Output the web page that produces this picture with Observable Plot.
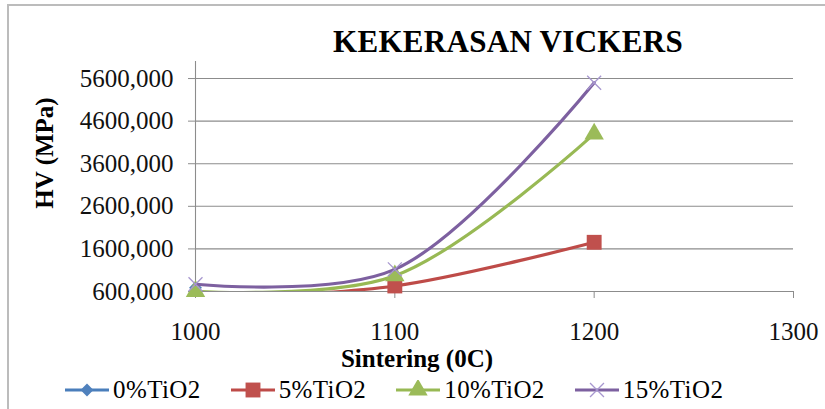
<!DOCTYPE html>
<html>
<head>
<meta charset="utf-8">
<script src="https://cdn.jsdelivr.net/npm/d3@7"></script>
<script src="https://cdn.jsdelivr.net/npm/@observablehq/plot@0.6"></script>
<style>
  html, body { margin: 0; padding: 0; background: #fff; font-family: 'Liberation Serif', serif; }
  #chart { position: relative; width: 825px; height: 409px; overflow: hidden; font-family: 'Liberation Serif', serif; color: #000; }
  #frame { position: absolute; left: 7px; top: 4px; width: 900px; height: 500px;
           border-top: 2px solid #bcbcbc; border-left: 2px solid #bcbcbc; }
  #plot { position: absolute; left: 0; top: 0; }
  .title { position: absolute; white-space: nowrap; font-weight: bold; font-family: 'Liberation Serif', serif; }
  #title { left: 508px; top: 26px; font-size: 31px; line-height: 31px; transform: translateX(-50%); letter-spacing: 0.3px; }
  #xtitle { left: 417px; top: 346px; font-size: 25px; line-height: 25px; transform: translateX(-50%); }
  #ytitle { left: 44px; top: 153px; font-size: 25px; line-height: 25px; transform: translate(-50%, -50%) rotate(-90deg); }
  #legend { position: absolute; left: 65px; top: 377px; display: flex; gap: 30px; font-size: 25px; line-height: 25px;
            letter-spacing: 0.4px; font-family: 'Liberation Serif', serif; }
  .item { display: flex; align-items: center; white-space: nowrap; }
  .item svg { margin-right: 4px; }
  #plot text { font-family: 'Liberation Serif', serif; }
</style>
</head>
<body>
<div id="chart">
  <div id="frame"></div>
  <div id="plot"></div>
  <div id="title" class="title">KEKERASAN VICKERS</div>
  <div id="ytitle" class="title">HV (MPa)</div>
  <div id="xtitle" class="title">Sintering (0C)</div>
  <div id="legend"></div>
</div>
<script>
// Sintering temperatures (°C) and Vickers hardness per TiO2 content
const temps = [1000, 1100, 1200];
const seriesNames = ["0%TiO2", "5%TiO2", "10%TiO2", "15%TiO2"];
const hv0 = [690, null, null];
const hv5 = [450, 730, 1755];
const hv10 = [605, 970, 4300];
const hv15 = [770, 1120, 5500];

const xTicks = [1000, 1100, 1200, 1300];
const yTicks = [600, 1600, 2600, 3600, 4600, 5600];
const yMin = 600, yMax = 6000;

// Per-series appearance: line colour, marker shape, size and paint
const styles = [
  {line: "#4a7ebb", symbol: "diamond2", r: 5.8, fill: "#4f81bd", stroke: "none"},
  {line: "#be4b48", symbol: "square", r: 8.4, fill: "#c0504d", stroke: "none"},
  {line: "#98b954", symbol: "triangle", r: 7.2, fill: "#9bbb59", stroke: "none"},
  {line: "#7d60a0", symbol: "times", r: 6.4, fill: "none", stroke: "#a797cf"}
];

const allValues = [hv0, hv5, hv10, hv15];
const rows = seriesNames.map((name, i) =>
  temps.map((t, j) => ({series: name, temp: t, hv: allValues[i][j]}))
       .filter(d => d.hv != null)
);

const fmtY = d => d3.format(".3f")(d).replace(".", ",");
const serif = "'Liberation Serif', serif";

// Lines are clipped to the plot area; markers are only drawn for points inside the axis range
const seriesMarks = rows.flatMap((data, i) => {
  const s = styles[i];
  return [
    Plot.line(data, {x: "temp", y: "hv", stroke: s.line, strokeWidth: 3.2, curve: "catmull-rom", clip: true}),
    Plot.dot(data, {x: "temp", y: "hv", filter: d => d.hv >= yMin && d.hv <= yMax,
                    symbol: () => s.symbol, r: s.r,
                    fill: s.fill, stroke: s.stroke, strokeWidth: 1.3})
  ];
});

const chart = Plot.plot({
  width: 825,
  height: 409,
  marginLeft: 195,
  marginRight: 32,
  marginTop: 61,
  marginBottom: 118,
  style: {fontFamily: serif, fontSize: "25px", background: "transparent", color: "#111"},
  x: {domain: [1000, 1300]},
  y: {domain: [yMin, yMax]},
  symbol: {type: "identity"},
  marks: [
    Plot.gridY({ticks: yTicks, stroke: "#8c8c8c", strokeOpacity: 1, strokeWidth: 1.1}),
    Plot.ruleX([1000], {stroke: "#8c8c8c", strokeWidth: 1.1}),
    Plot.axisY({ticks: yTicks, tickSize: 7, tickPadding: 15, tickFormat: fmtY, stroke: "#8c8c8c", label: null, fontFamily: serif}),
    Plot.axisX({ticks: xTicks, tickSize: 7, tickPadding: 24, tickFormat: d => String(d), stroke: "#8c8c8c", label: null, fontFamily: serif}),
    ...seriesMarks
  ]
});
document.getElementById("plot").appendChild(chart);

// Legend: a short line with the series marker, followed by the series name
const symbolTypes = {diamond2: d3.symbolDiamond2, square: d3.symbolSquare, triangle: d3.symbolTriangle, times: d3.symbolTimes};
const legend = d3.select("#legend");
seriesNames.forEach((name, i) => {
  const s = styles[i];
  const item = legend.append("div").attr("class", "item");
  const svg = item.append("svg").attr("width", 44).attr("height", 20);
  svg.append("line").attr("x1", 0).attr("x2", 44).attr("y1", 10).attr("y2", 10)
     .attr("stroke", s.line).attr("stroke-width", 3.2);
  svg.append("path")
     .attr("transform", "translate(22,10)")
     .attr("d", d3.symbol(symbolTypes[s.symbol], Math.PI * s.r * s.r)())
     .attr("fill", s.fill).attr("stroke", s.stroke).attr("stroke-width", 1.3);
  item.append("span").text(name);
});
</script>
</body>
</html>
